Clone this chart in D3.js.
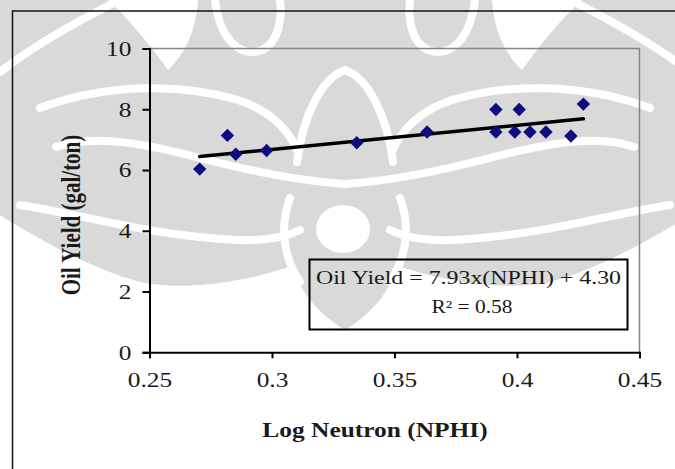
<!DOCTYPE html>
<html>
<head>
<meta charset="utf-8">
<script src="https://cdn.jsdelivr.net/npm/d3@7"></script>
<style>
  body { margin: 0; background: #fff; }
  svg text { font-family: "Liberation Serif", "Times New Roman", serif; fill: #1a1a1a; }
</style>
</head>
<body>
<svg id="svg1"></svg>
<script>
    // Data
    const nphi = [0.2705, 0.2818, 0.2852, 0.2978, 0.3346, 0.3633, 0.3914, 0.3914, 0.3991, 0.4009, 0.4053, 0.4118, 0.4220, 0.4271];
    const oilYield = [6.03, 7.14, 6.52, 6.64, 6.90, 7.25, 7.99, 7.25, 7.25, 7.99, 7.25, 7.25, 7.12, 8.17];
    const xTicks = [0.25, 0.3, 0.35, 0.4, 0.45];
    const yTicks = [0, 2, 4, 6, 8, 10];
    const slope = 7.93, intercept = 4.30;
    const eqText = "Oil Yield = 7.93x(NPHI) + 4.30";
    const r2Text = "R² = 0.58";

    const W = 675, H = 469;
    const sx = 1.27; // the picture is stretched sideways

    const svg = d3.select("#svg1")
      .attr("width", W)
      .attr("height", H);

    // faint watermark in the background (left half drawn, then mirrored)
    const half = g => {
      g.append("path").attr("fill", "#d9d9d9")
        .attr("d", "M0,0 L345,0 L345,330 C322,316 302,296 292,266 C250,280 190,292 140,282 C90,268 40,240 0,215 Z");
      g.append("path").attr("fill", "#fff")
        .attr("d", "M108,0 L198,0 C196,32 184,55 168,70 C150,45 128,18 108,0 Z");
      const s = g.append("g").attr("fill", "none").attr("stroke", "#fff").attr("stroke-width", 8).attr("stroke-linecap", "round");
      s.append("path").attr("d", "M0,72 C35,45 70,25 112,4");
      s.append("path").attr("d", "M56,147 C95,133 150,145 200,158 C250,171 300,181 345,184");
      s.append("path").attr("d", "M40,108 C110,82 185,84 238,100 C268,110 288,128 298,152");
      s.append("path").attr("d", "M297,162 C303,115 322,78 345,70");
      s.append("path").attr("d", "M215,0 C220,40 240,58 262,50 C280,42 282,15 280,0");
      s.append("path").attr("d", "M20,205 C80,214 150,236 238,240 C268,241 288,236 300,230");
      s.append("path").attr("d", "M290,198 C279,228 284,258 300,282");
    };
    const wm = svg.append("g");
    half(wm.append("g"));
    half(wm.append("g").attr("transform", "translate(690,0) scale(-1,1)"));
    wm.append("ellipse").attr("cx", 343).attr("cy", 229).attr("rx", 27).attr("ry", 24).attr("fill", "#fff");

    // outer frame
    svg.append("rect")
      .attr("x", 12.5).attr("y", 11).attr("width", 720).attr("height", 520)
      .attr("fill", "none").attr("stroke", "#111").attr("stroke-width", 1.5);

    const x = d3.scaleLinear().domain([0.25, 0.45]).range([149.5, 639.5]);
    const y = d3.scaleLinear().domain([0, 10]).range([352.3, 48.5]);

    // plot area border (top and right)
    svg.append("path")
      .attr("d", `M${x(0.25)},${y(10)} H${x(0.45)} V${y(0)}`)
      .attr("fill", "none").attr("stroke", "#858585").attr("stroke-width", 1.5);

    // Y axis
    const gy = svg.append("g")
      .attr("transform", `translate(${x(0.25)},0)`)
      .call(d3.axisLeft(y).tickValues(yTicks).tickSize(7).tickFormat(d3.format("d")));
    gy.select(".domain").attr("stroke", "#000").attr("stroke-width", 2);
    gy.selectAll(".tick line").attr("stroke", "#000").attr("stroke-width", 2);
    gy.selectAll(".tick text")
      .attr("x", 0).attr("dy", "0.34em")
      .attr("transform", `translate(-18,0) scale(${sx},1)`)
      .style("font-size", "20px").style("font-family", "Liberation Serif");

    // X axis
    const gx = svg.append("g")
      .attr("transform", `translate(0,${y(0)})`)
      .call(d3.axisBottom(x).tickValues(xTicks).tickSize(6).tickFormat(d => String(d)));
    gx.select(".domain").attr("stroke", "#000").attr("stroke-width", 2);
    gx.selectAll(".tick line").attr("stroke", "#000").attr("stroke-width", 2);
    gx.selectAll(".tick text")
      .attr("y", 0).attr("dy", 0)
      .attr("transform", `translate(0,35) scale(${sx},1)`)
      .style("font-size", "20px").style("font-family", "Liberation Serif");

    // axis titles
    svg.append("text")
      .attr("transform", `translate(375,437) scale(${sx},1)`)
      .attr("text-anchor", "middle")
      .style("font-size", "20px").style("font-weight", "bold")
      .text("Log Neutron (NPHI)");

    svg.append("text")
      .attr("transform", `translate(80,215) scale(${sx},1) rotate(-90)`)
      .attr("text-anchor", "middle")
      .style("font-size", "21px").style("font-weight", "bold")
      .text("Oil Yield (gal/ton)");

    // trend line
    const xr = d3.extent(nphi);
    const line = d3.line().x(d => x(d)).y(d => y(slope * d + intercept));
    svg.append("path")
      .datum(xr)
      .attr("d", line)
      .attr("fill", "none").attr("stroke", "#000").attr("stroke-width", 3.5)
      .attr("stroke-linecap", "round");

    // points
    const diamond = d3.symbol().type(d3.symbolDiamond2).size(115);
    svg.append("g").selectAll("path")
      .data(nphi.map((v, i) => [v, oilYield[i]]))
      .join("path")
      .attr("transform", d => `translate(${x(d[0])},${y(d[1])})`)
      .attr("d", diamond)
      .attr("fill", "#0d0d80");

    // equation box
    svg.append("rect")
      .attr("x", 309.5).attr("y", 259.5).attr("width", 318).attr("height", 70)
      .attr("fill", "none").attr("stroke", "#000").attr("stroke-width", 2);
    svg.append("text")
      .attr("x", 468.5).attr("y", 284).attr("text-anchor", "middle")
      .attr("textLength", 305).attr("lengthAdjust", "spacingAndGlyphs")
      .style("font-size", "18px")
      .text(eqText);
    svg.append("text")
      .attr("x", 472).attr("y", 313).attr("text-anchor", "middle")
      .attr("textLength", 81).attr("lengthAdjust", "spacingAndGlyphs")
      .style("font-size", "18px")
      .text(r2Text);
</script>
</body>
</html>
